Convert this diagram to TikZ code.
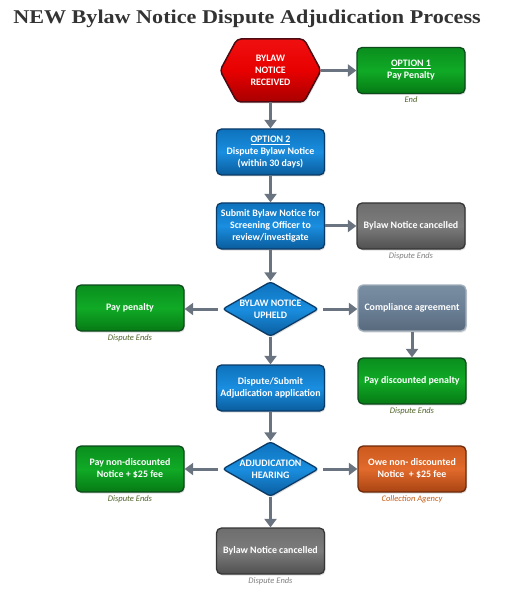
\documentclass[tikz,border=0pt]{standalone}
\usepackage{fontspec}
\setmainfont{Carlito}
\newfontfamily\titlefont{Liberation Serif}
\usetikzlibrary{shapes.geometric,arrows.meta,positioning,shadows,calc}
\definecolor{arrC}{HTML}{6A7480}
\definecolor{grnT}{HTML}{0A8E1E}\definecolor{grnM}{HTML}{10AA26}\definecolor{grnBot}{HTML}{067A14}\definecolor{grnB}{HTML}{0D4A1C}
\definecolor{bluT}{HTML}{0E72BC}\definecolor{bluM}{HTML}{1A8EE0}\definecolor{bluBot}{HTML}{0A5C9C}\definecolor{bluB}{HTML}{0A3A66}
\definecolor{redT}{HTML}{F01010}\definecolor{redM}{HTML}{E80000}\definecolor{redBot}{HTML}{A80000}\definecolor{redB}{HTML}{4D0A12}
\definecolor{gryT}{HTML}{6E6E6E}\definecolor{gryM}{HTML}{7C7C7C}\definecolor{gryBot}{HTML}{505050}\definecolor{gryB}{HTML}{363636}
\definecolor{sltT}{HTML}{7A8EA2}\definecolor{sltM}{HTML}{6B8096}\definecolor{sltBot}{HTML}{58697C}\definecolor{sltB}{HTML}{A0ADBA}
\definecolor{orgT}{HTML}{CC5A1E}\definecolor{orgM}{HTML}{E26A2C}\definecolor{orgBot}{HTML}{A84412}\definecolor{orgB}{HTML}{6E2A0A}
\definecolor{capG}{HTML}{4F6228}\definecolor{capGr}{HTML}{7F7F7F}\definecolor{capO}{HTML}{C55A11}
\definecolor{ttl}{HTML}{333333}
\tikzset{
  boxtxt/.style={text=white, align=center, font=\fontsize{9.9}{12}\selectfont\bfseries},
  box/.style={boxtxt, rounded corners=5pt, minimum width=108pt, minimum height=46pt, inner sep=1pt, line width=1.3pt,
    drop shadow={opacity=0.25,shadow xshift=1pt,shadow yshift=-1.5pt}},
  greenbox/.style={box, draw=grnB, top color=grnT, bottom color=grnBot, middle color=grnM},
  bluebox/.style={box, draw=bluB, top color=bluT, bottom color=bluBot, middle color=bluM},
  graybox/.style={box, draw=gryB, top color=gryT, bottom color=gryBot, middle color=gryM},
  slatebox/.style={box, draw=sltB, top color=sltT, bottom color=sltBot, middle color=sltM},
  orangebox/.style={box, draw=orgB, top color=orgT, bottom color=orgBot, middle color=orgM},
  diam/.style={diamond, minimum width=96pt, minimum height=55pt, inner sep=0pt, rounded corners=3pt, line width=1.3pt,
    draw=bluB, top color=bluT, bottom color=bluBot, middle color=bluM,
    drop shadow={opacity=0.25,shadow xshift=1pt,shadow yshift=-1.5pt}},
  arr/.style={draw=arrC, line width=3pt, -{Triangle[length=8.5pt,width=12pt]}},
  captxt/.style={font=\fontsize{8.5}{9}\selectfont\itshape, inner sep=1pt},
}
\begin{document}
\begin{tikzpicture}[x=1pt,y=-1pt]
\useasboundingbox (0,0) rectangle (504,593);
\node[text=ttl, font=\titlefont\fontsize{19.5}{22}\selectfont\bfseries] (title) at (247,18.5) {\scalebox{1.135}[1]{NEW Bylaw Notice Dispute Adjudication Process}};

% hexagon
\path[rounded corners=4pt, draw=redB, line width=1.5pt, top color=redT, bottom color=redBot, middle color=redM,
  drop shadow={opacity=0.25,shadow xshift=1pt,shadow yshift=-1.5pt}]
  (220,70.5) -- (237,39) -- (304,39) -- (321,70.5) -- (304,102) -- (237,102) -- cycle;
\node[minimum width=101pt, minimum height=63pt, inner sep=0pt] (hex) at (270.5,70.5) {};
\node[boxtxt] at (hex) {BYLAW\\NOTICE\\RECEIVED};

\node[greenbox] (opt1) at (411,70.5) {\underline{OPTION 1}\\Pay Penalty};
\node[captxt, text=capG, below=1.5pt of opt1] (c1) {End};

\node[bluebox] (opt2) at (270.5,152) {\underline{OPTION 2}\\Dispute Bylaw Notice\\(within 30 days)};
\node[bluebox] (sub) at (270.5,226) {Submit Bylaw Notice for\\Screening Officer to\\review/investigate};
\node[graybox] (can1) at (411,226) {Bylaw Notice cancelled};
\node[captxt, text=capGr, below=1.5pt of can1] (c2) {Dispute Ends};

\node[diam] (d1) at (270.5,309) {};
\node[boxtxt] at (d1) {BYLAW NOTICE\\UPHELD};
\node[greenbox] (pay1) at (130,308) {Pay penalty};
\node[captxt, text=capG, below=1.5pt of pay1] (c3) {Dispute Ends};
\node[slatebox] (comp) at (412,308) {Compliance agreement};
\node[greenbox] (pd) at (412,381) {Pay discounted penalty};
\node[captxt, text=capG, below=1.5pt of pd] (c4) {Dispute Ends};

\node[bluebox] (app) at (270.5,388) {Dispute/Submit\\Adjudication application};
\node[diam] (d2) at (270.5,469) {};
\node[boxtxt] at (d2) {ADJUDICATION\\HEARING};
\node[greenbox] (pay2) at (130,469) {Pay non-discounted\\Notice + \$25 fee};
\node[captxt, text=capG, below=1.5pt of pay2] (c5) {Dispute Ends};
\node[orangebox] (owe) at (412,469) {Owe non- discounted\\Notice \ + \$25 fee};
\node[captxt, text=capO, below=1.5pt of owe] (c6) {Collection Agency};
\node[graybox] (can2) at (270.5,551) {Bylaw Notice cancelled};
\node[captxt, text=capGr, below=1.5pt of can2] (c7) {Dispute Ends};

% connectors
\draw[arr] (hex.east) -- (opt1.west);
\draw[arr] (hex.south) -- (opt2.north);
\draw[arr] (opt2.south) -- (sub.north);
\draw[arr] (sub.east) -- (can1.west);
\draw[arr] (sub.south) -- (d1.north);
\draw[arr, shorten <=4pt] (d1.west) -- (d1.west -| pay1.east);
\draw[arr, shorten <=4pt] (d1.east) -- (d1.east -| comp.west);
\draw[arr] (comp.south) -- (pd.north);
\draw[arr] (d1.south) -- (app.north);
\draw[arr] (app.south) -- (d2.north);
\draw[arr, shorten <=4pt] (d2.west) -- (pay2.east);
\draw[arr, shorten <=4pt] (d2.east) -- (owe.west);
\draw[arr] (d2.south) -- (can2.north);
\end{tikzpicture}
\end{document}
